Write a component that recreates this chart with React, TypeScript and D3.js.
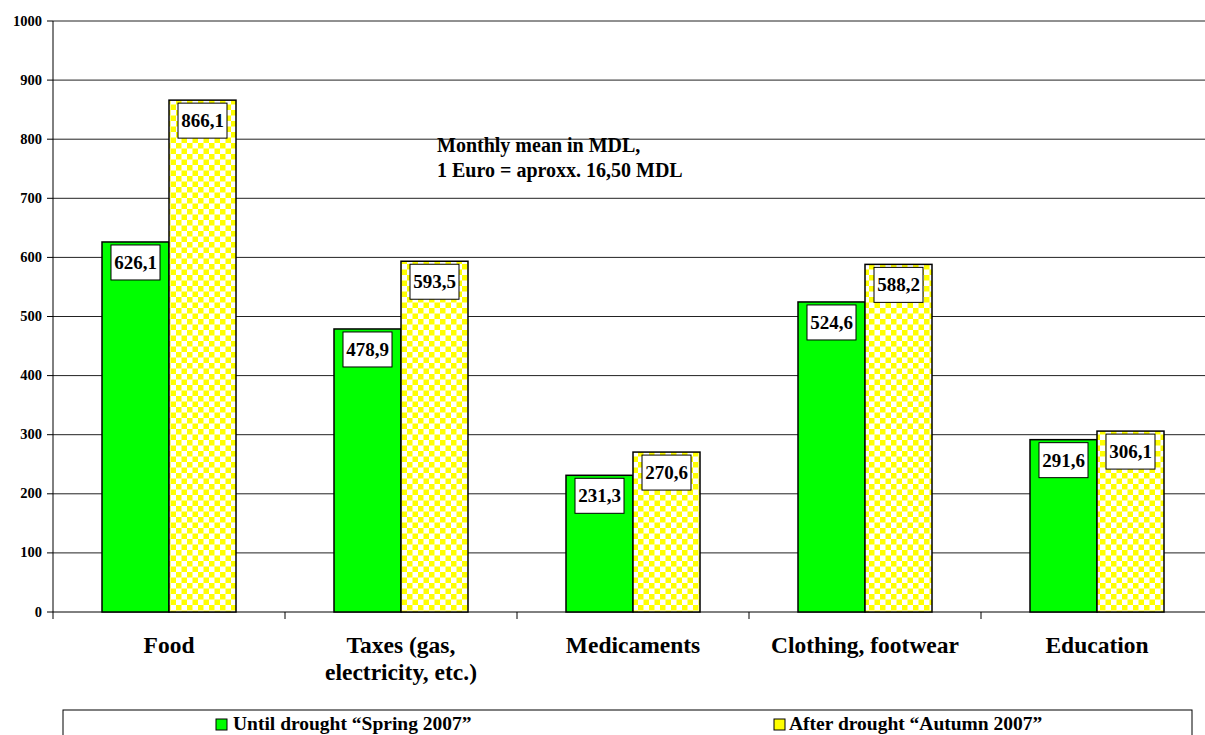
import React from "react";
import * as d3 from "d3";

const categories: string[][] = [
  ["Food"],
  ["Taxes (gas,", "electricity, etc.)"],
  ["Medicaments"],
  ["Clothing, footwear"],
  ["Education"],
];
const seriesNames = ["Until drought “Spring 2007”", "After drought “Autumn 2007”"];
const springValues = [626.1, 478.9, 231.3, 524.6, 291.6];
const autumnValues = [866.1, 593.5, 270.6, 588.2, 306.1];
const yTicks = [0, 100, 200, 300, 400, 500, 600, 700, 800, 900, 1000];
const noteLines = ["Monthly mean in MDL,", "1 Euro = aproxx. 16,50 MDL"];

const W = 1205;
const H = 735;
const FONT = "'Liberation Serif', 'Times New Roman', serif";

export default function App() {
  const left = 53;
  const top = 21;
  const bottom = 612;
  const bandW = 232;
  const catKeys = categories.map((_, i) => String(i));
  const x0 = d3.scaleBand<string>().domain(catKeys).range([left, left + bandW * catKeys.length]).padding(0);
  const x1 = d3.scaleBand<string>().domain(["s", "a"]).range([49, 49 + 134]).padding(0);
  const y = d3.scaleLinear().domain([0, 1000]).range([bottom, top]);
  const fmt = (v: number) => v.toFixed(1).replace(".", ",");

  const bars: { key: string; cat: string; v: number; fill: string }[] = [];
  catKeys.forEach((c, i) => {
    bars.push({ key: "s" + i, cat: c, v: springValues[i], fill: "#00ff00" });
    bars.push({ key: "a" + i, cat: c, v: autumnValues[i], fill: "url(#checker)" });
  });

  return (
    <svg width={W} height={H} style={{ position: "absolute", left: 0, top: 0, background: "#fff" }}>
      <defs>
        <pattern id="checker" width={11} height={11} patternUnits="userSpaceOnUse">
          <rect width={11} height={11} fill="#ffffff" />
          <rect x={0} y={0} width={5.5} height={5.5} fill="#ffff00" />
          <rect x={5.5} y={5.5} width={5.5} height={5.5} fill="#ffff00" />
        </pattern>
      </defs>
      {/* gridlines */}
      {yTicks.map((t) => (
        <line key={"g" + t} x1={left} x2={W} y1={y(t)} y2={y(t)} stroke={t === 0 ? "#000" : "#222"} strokeWidth={1} />
      ))}
      {/* y axis */}
      <line x1={left} x2={left} y1={top} y2={bottom} stroke="#000" />
      {yTicks.map((t) => (
        <g key={"yt" + t}>
          <line x1={left - 6} x2={left} y1={y(t)} y2={y(t)} stroke="#000" />
          <text x={42} y={y(t) + 4.5} textAnchor="end" fontFamily={FONT} fontWeight="bold" fontSize={14.5}>
            {t}
          </text>
        </g>
      ))}
      {/* x ticks */}
      {d3.range(catKeys.length + 1).map((i) => (
        <line key={"xt" + i} x1={left + bandW * i} x2={left + bandW * i} y1={bottom} y2={bottom + 7} stroke="#000" />
      ))}
      {/* bars */}
      {bars.map((b) => {
        const bx = (x0(b.cat) as number) + (x1(b.key[0]) as number);
        const bw = x1.bandwidth();
        const by = y(b.v);
        return (
          <g key={b.key}>
            <rect x={bx} y={by} width={bw} height={bottom - by} fill={b.fill} stroke="#000" strokeWidth={1.5} />
            <rect x={bx + bw / 2 - 24.5} y={by + 3} width={49} height={35} fill="#fff" stroke="#000" strokeWidth={1} />
            <text x={bx + bw / 2} y={by + 27} textAnchor="middle" fontFamily={FONT} fontWeight="bold" fontSize={19}>
              {fmt(b.v)}
            </text>
          </g>
        );
      })}
      {/* category labels */}
      {categories.map((lines, i) => (
        <text key={"c" + i} textAnchor="middle" fontFamily={FONT} fontWeight="bold" fontSize={23.5}>
          {lines.map((l, j) => (
            <tspan key={j} x={(x0(String(i)) as number) + bandW / 2} y={653 + j * 27}>
              {l}
            </tspan>
          ))}
        </text>
      ))}
      {/* note */}
      <text fontFamily={FONT} fontWeight="bold" fontSize={20}>
        {noteLines.map((l, j) => (
          <tspan key={j} x={437} y={152 + j * 25}>
            {l}
          </tspan>
        ))}
      </text>
      {/* legend */}
      <rect x={63} y={710} width={1129} height={40} fill="#fff" stroke="#000" strokeWidth={1} />
      <rect x={216} y={719} width={11} height={11} fill="#00ff00" stroke="#000" strokeWidth={1} />
      <text x={233} y={730} fontFamily={FONT} fontWeight="bold" fontSize={19.5}>
        {seriesNames[0]}
      </text>
      <rect x={774} y={719} width={11} height={11} fill="#ffff00" stroke="#000" strokeWidth={1} />
      <text x={789} y={730} fontFamily={FONT} fontWeight="bold" fontSize={19.5}>
        {seriesNames[1]}
      </text>
    </svg>
  );
}
